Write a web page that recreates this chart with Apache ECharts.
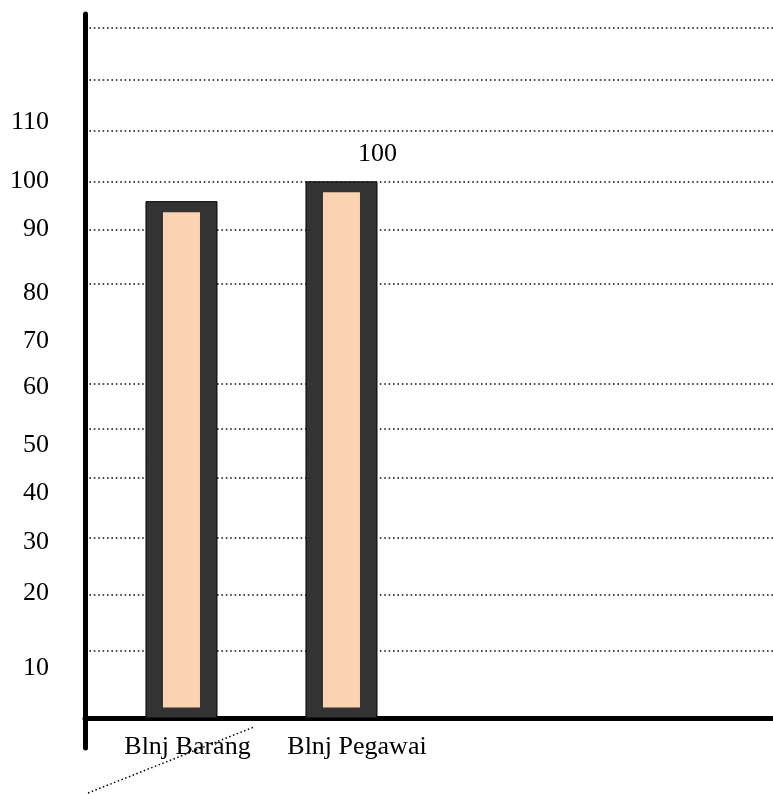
<!DOCTYPE html>
<html>
<head>
<meta charset="utf-8">
<script src="https://cdn.jsdelivr.net/npm/echarts@6/dist/echarts.min.js"></script>
<style>
  html, body { margin: 0; padding: 0; background: #fff; }
  #chart { width: 773px; height: 794px; }
</style>
</head>
<body>
<div id="chart"></div>
<script>
// Spending categories and their values
const categories = ['Blnj Barang', 'Blnj Pegawai'];
const values = [96.3, 100];
const showValueLabel = [false, true];

// Vertical axis: where the tick texts sit and what they read
const yLabelValues = [111.1, 100.1, 91.1, 79.2, 70.3, 61.7, 50.9, 41.9, 32.8, 23.3, 9.3];
const yLabelTexts = ['110', '100', '90', '80', '70', '60', '50', '40', '30', '20', '10'];

// Dotted horizontal guide lines
const gridValues = [128.7, 119.1, 109.6, 100, 91.0, 80.9, 62.3, 54.0, 44.8, 33.7, 22.9, 12.5];

const FONT = '"Liberation Serif", "Times New Roman", serif';
const FS = 26;

const chart = echarts.init(document.getElementById('chart'), null, { renderer: 'canvas' });

const option = {
  backgroundColor: '#ffffff',
  animation: false,
  grid: { left: 85, right: 0, top: 14, bottom: 46, containLabel: false },
  xAxis: {
    type: 'value',
    min: 0.397,
    max: 4.697,
    splitLine: { show: false },
    axisTick: { show: false },
    axisLine: { show: true, onZero: true, lineStyle: { color: '#000', width: 5 } },
    axisLabel: {
      customValues: [1, 2],
      // labels are anchored to the bottom edge of the plot area
      margin: -14,
      color: '#000',
      fontFamily: FONT,
      fontSize: FS,
      lineHeight: FS,
      formatter: function (v) {
        const i = Math.round(v) - 1;
        return '{c' + i + '|' + categories[i] + '}';
      },
      rich: {
        c0: { fontFamily: FONT, fontSize: FS, lineHeight: FS, color: '#000', padding: [0, 0, 0, 12] },
        c1: { fontFamily: FONT, fontSize: FS, lineHeight: FS, color: '#000', padding: [0, 0, 0, 31] }
      }
    }
  },
  yAxis: {
    type: 'value',
    min: -5.6,
    max: 131.3,
    axisLine: { show: true, onZero: false, lineStyle: { color: '#000', width: 5 } },
    axisTick: { show: false, customValues: gridValues },
    splitLine: {
      show: true,
      lineStyle: { color: '#111', width: 1.5, type: [1.6, 2.8] }
    },
    axisLabel: {
      customValues: yLabelValues,
      margin: 36,
      color: '#000',
      fontFamily: FONT,
      fontSize: FS,
      formatter: function (v) {
        let best = 0;
        for (let i = 0; i < yLabelValues.length; i++) {
          if (Math.abs(yLabelValues[i] - v) < Math.abs(yLabelValues[best] - v)) best = i;
        }
        return yLabelTexts[best];
      }
    }
  },
  graphic: [{
    type: 'line',
    shape: { x1: 88, y1: 793, x2: 254, y2: 727 },
    style: { stroke: '#000', lineWidth: 1.5, lineDash: [1.5, 2.5] },
    z: 10
  }],
  series: [{
    type: 'custom',
    data: values.map(function (v, i) { return [i + 1, v, showValueLabel[i] ? 1 : 0]; }),
    renderItem: function (params, api) {
      const x = api.value(0);
      const v = api.value(1);
      const top = api.coord([x, v]);
      const base = api.coord([x, 0]);
      const outerW = 71;
      const sideInset = 17;
      const capInset = 10.5;
      const children = [
        {
          type: 'rect',
          shape: { x: top[0] - outerW / 2, y: top[1], width: outerW, height: base[1] - top[1] },
          style: { fill: '#333333', stroke: '#000', lineWidth: 1 }
        },
        {
          type: 'rect',
          shape: {
            x: top[0] - outerW / 2 + sideInset,
            y: top[1] + capInset,
            width: outerW - 2 * sideInset,
            height: base[1] - top[1] - 2 * capInset
          },
          style: { fill: '#FAD3B2' }
        }
      ];
      if (api.value(2)) {
        children.push({
          type: 'text',
          x: top[0] + 36,
          y: top[1] - 28,
          style: {
            text: String(v),
            fill: '#000',
            font: FS + 'px ' + FONT,
            align: 'center',
            verticalAlign: 'middle'
          }
        });
      }
      return { type: 'group', children: children };
    },
    z: 3
  }]
};

chart.setOption(option);
</script>
</body>
</html>
